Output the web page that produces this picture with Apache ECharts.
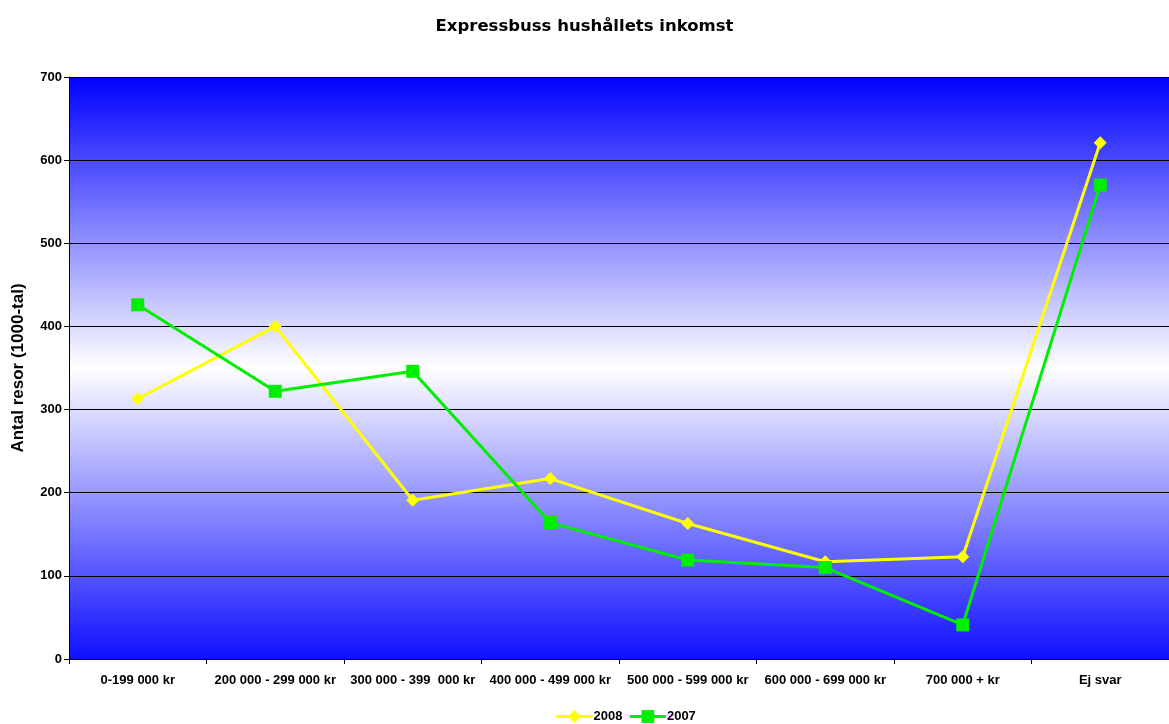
<!DOCTYPE html>
<html>
<head>
<meta charset="utf-8">
<script src="https://cdn.jsdelivr.net/npm/echarts@6/dist/echarts.min.js"></script>
<style>html,body{margin:0;padding:0;background:#fff}#c{width:1169px;height:724px}</style>
</head>
<body>
<div id="c"></div>
<script>
var categories = ['0-199 000 kr', '200 000 - 299 000 kr', '300 000 - 399  000 kr', '400 000 - 499 000 kr', '500 000 - 599 000 kr', '600 000 - 699 000 kr', '700 000 + kr', 'Ej svar'];
var values2008 = [313, 400, 191, 217, 163, 117, 123, 621];
var values2007 = [426, 322, 346, 164, 119, 110, 41, 570];
var yTicks = [0, 100, 200, 300, 400, 500, 600, 700];

var chart = echarts.init(document.getElementById('c'), null, {renderer: 'canvas'});
var font = 'Liberation Sans, Arial, sans-serif';
chart.setOption({
  animation: false,
  title: {
    text: 'Expressbuss hushållets inkomst',
    left: 'center', top: 13,
    textStyle: {fontFamily: 'DejaVu Sans', fontSize: 16.5, fontWeight: 'bold', color: '#000'}
  },
  legend: {
    top: 705, left: 550,
    itemWidth: 36, itemHeight: 16, itemGap: 6,
    lineStyle: {width: 3},
    textStyle: {fontFamily: font, fontSize: 13, fontWeight: 'bold', color: '#000', padding: [0,0,0,-4]},
    data: ['2008', '2007']
  },
  grid: {
    left: 69, right: -4, top: 77, bottom: 65,
    show: true, borderWidth: 0,
    backgroundColor: {
      type: 'linear', x: 0, y: 0, x2: 0, y2: 1,
      colorStops: [
        {offset: 0, color: '#0000ff'},
        {offset: 0.5, color: '#ffffff'},
        {offset: 1, color: '#0f0fff'}
      ]
    }
  },
  xAxis: {
    type: 'category', data: categories, boundaryGap: true,
    axisLine: {lineStyle: {color: '#000', width: 1}},
    axisTick: {show: true, length: 5, lineStyle: {color: '#000'}},
    axisLabel: {fontFamily: font, fontSize: 13, fontWeight: 'bold', color: '#000', margin: 15, interval: 0}
  },
  yAxis: {
    type: 'value', min: yTicks[0], max: yTicks[yTicks.length - 1], interval: 100,
    name: 'Antal resor (1000-tal)', nameLocation: 'middle', nameGap: 42,
    nameTextStyle: {fontFamily: font, fontSize: 17, fontWeight: 'bold', color: '#000'},
    axisLine: {show: true, lineStyle: {color: '#000', width: 1}},
    axisTick: {show: true, length: 5, lineStyle: {color: '#000'}},
    axisLabel: {fontFamily: font, fontSize: 13, fontWeight: 'bold', color: '#000', margin: 7},
    splitLine: {show: true, lineStyle: {color: '#000', width: 1}}
  },
  series: [
    {
      name: '2008', type: 'line', data: values2008,
      symbol: 'diamond', symbolSize: 13,
      lineStyle: {color: '#ffff00', width: 3},
      itemStyle: {color: '#ffff00'}
    },
    {
      name: '2007', type: 'line', data: values2007,
      symbol: 'rect', symbolSize: 13,
      lineStyle: {color: '#00ee00', width: 3},
      itemStyle: {color: '#00ee00'}
    }
  ]
});
</script>
</body>
</html>
